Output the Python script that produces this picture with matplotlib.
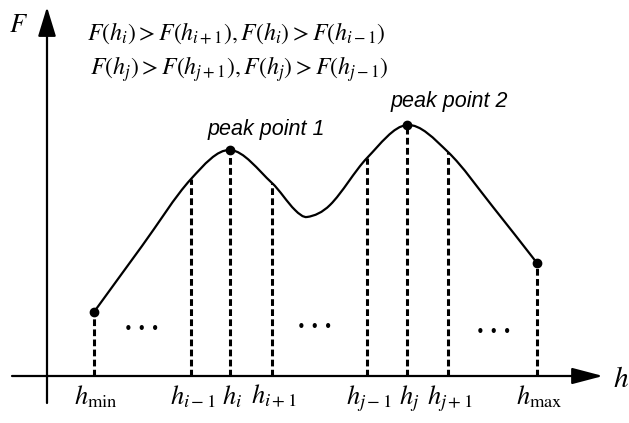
import numpy as np
import matplotlib
matplotlib.use("Agg")
import matplotlib.pyplot as plt
from matplotlib.path import Path
from matplotlib.patches import PathPatch

plt.rcParams.update({'mathtext.fontset': 'stix', 'font.family': ['Liberation Sans', 'DejaVu Sans']})

# --- data (schematic units: h to the right, F upward from the h axis) ---
h_ticks = [94, 191, 230, 272, 367, 407, 448, 537]
F_ticks = [64, 197, 226, 193, 218, 251, 224, 113]
h_labels = [r'$h_{\min}$', r'$h_{i-1}$', r'$h_i$', r'$h_{i+1}$',
            r'$h_{j-1}$', r'$h_j$', r'$h_{j+1}$', r'$h_{\max}$']
# extra shape points of the curve (between ticks / around the valley)
h_extra = [142, 295, 307, 330, 493]
F_extra = [130, 166, 159, 171, 169]
dot_idx = [0, 2, 5, 7]           # h_min, peak 1, peak 2, h_max
peak_names = ['peak point 1', 'peak point 2']
ellipsis_h = [142, 315, 494]
ellipsis_F = [47, 49, 44]

fig = plt.figure(figsize=(6.29, 4.23), dpi=100)
ax = fig.add_axes([0, 0, 1, 1])
ax.set_xlim(0, 629)
ax.set_ylim(-47, 376)
ax.axis('off')

# smooth curve through the knots (cubic Hermite in h -> Bezier segments)
kx = np.array(h_ticks + h_extra, float)
ky = np.array(F_ticks + F_extra, float)
order = np.argsort(kx)
x, y = kx[order], ky[order]
m = np.empty_like(y)
m[1:-1] = (y[2:] - y[:-2]) / (x[2:] - x[:-2])
m[0] = (y[1] - y[0]) / (x[1] - x[0])
m[-1] = (y[-1] - y[-2]) / (x[-1] - x[-2])
verts = [(x[0], y[0])]
codes = [Path.MOVETO]
for k in range(len(x) - 1):
    d = x[k + 1] - x[k]
    verts += [(x[k] + d / 3, y[k] + m[k] * d / 3),
              (x[k + 1] - d / 3, y[k + 1] - m[k + 1] * d / 3),
              (x[k + 1], y[k + 1])]
    codes += [Path.CURVE4] * 3
ax.add_patch(PathPatch(Path(verts, codes), fill=False, lw=1.6, ec='black', zorder=3))

# dashed drop lines
for xi, f in zip(h_ticks, F_ticks):
    ax.plot([xi, xi], [0, f], color='black', lw=2.2, dashes=(2.2, 1.1), zorder=2)

# dots
ax.plot([h_ticks[i] for i in dot_idx], [F_ticks[i] for i in dot_idx], 'o',
        color='black', ms=6, zorder=4)

# axes with arrows
ax.annotate('', xy=(603, 0), xytext=(12, 0),
            arrowprops=dict(arrowstyle='-|>,head_length=1.9,head_width=0.5',
                            mutation_scale=10, lw=1.6, color='black',
                            shrinkA=0, shrinkB=0))
ax.annotate('', xy=(47, 369), xytext=(47, -27),
            arrowprops=dict(arrowstyle='-|>,head_length=1.8,head_width=0.55',
                            mutation_scale=10, lw=1.6, color='black',
                            shrinkA=0, shrinkB=0))
ax.text(613, -11, r'$h$', fontsize=21, ha='left', va='baseline')
ax.text(19, 344, r'$F$', fontsize=19, ha='center', va='baseline')

# tick labels
for xi, lab in zip(h_ticks, h_labels):
    ax.text(xi + 2, -28, lab, fontsize=19, ha='center', va='baseline')

# peak labels
ax.text(266, 241, peak_names[0], fontsize=15.5, style='italic', ha='center', va='baseline')
ax.text(449, 269, peak_names[1], fontsize=15.5, style='italic', ha='center', va='baseline')

# ellipses
for xi, f in zip(ellipsis_h, ellipsis_F):
    ax.text(xi, f, '\u2022 \u2022 \u2022', fontsize=10.5, ha='center', va='center',
            family='DejaVu Sans')

# conditions
ax.text(87, 336, r'$F(h_i) > F(h_{i+1}), F(h_i) > F(h_{i-1})$', fontsize=17.2,
        ha='left', va='baseline')
ax.text(90, 301, r'$F(h_j) > F(h_{j+1}), F(h_j) > F(h_{j-1})$', fontsize=17.2,
        ha='left', va='baseline')

fig.savefig('out.png', dpi=100)
